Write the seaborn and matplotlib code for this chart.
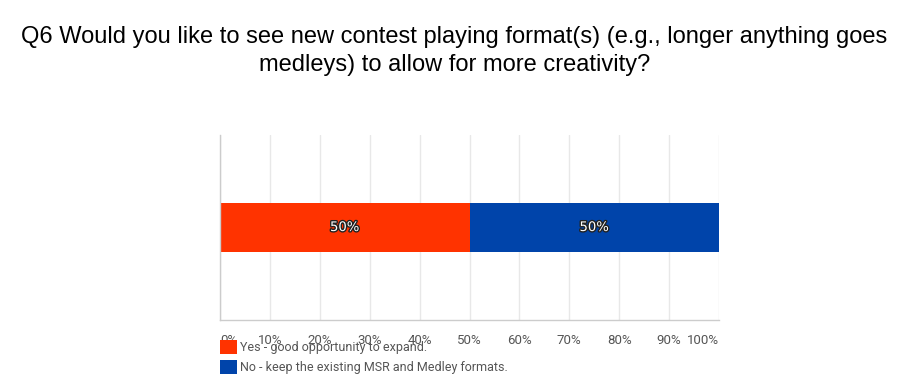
import matplotlib
matplotlib.use("Agg")
import matplotlib.pyplot as plt
import matplotlib.patheffects as pe
from matplotlib.patches import Patch
import seaborn as sns
import pandas as pd

# data
question = "Q6"
answers = ["Yes - good opportunity to expand.", "No - keep the existing MSR and Medley formats."]
shares = [50, 50]
colors = ["#ff3300", "#0044aa"]
tick_values = [0, 10, 20, 30, 40, 50, 60, 70, 80, 90, 100]
tick_labels = [f"{t}%" for t in tick_values]

sns.set_theme(style="white")
plt.rcParams['font.family'] = ['Roboto', 'DejaVu Sans']

df = pd.DataFrame({"q": [question] * len(answers), "answer": answers, "share": shares})
df["cum"] = df["share"].cumsum()

fig = plt.figure(figsize=(9.09, 3.88), dpi=100)
ax = fig.add_axes([220 / 909, 1 - 320 / 388, 499 / 909, 185 / 388])

# stacked bar: draw cumulative totals from the last segment back to the first
for i in range(len(df) - 1, -1, -1):
    row = df.iloc[[i]]
    sns.barplot(data=row, x="cum", y="q", orient="h", color=colors[i],
                width=0.53, ax=ax, saturation=1, edgecolor="none", zorder=2)

starts = [0] + list(df["cum"][:-1])
for s, v in zip(starts, df["share"]):
    ax.text(s + v / 2, 0, f"{v}%", ha="center", va="center", color="white",
            fontsize=9.5, family="DejaVu Sans",
            path_effects=[pe.withStroke(linewidth=2, foreground="#222222")], zorder=3)

ax.set_xlim(0, 100)
ax.set_ylim(1, -1)
ax.set_xticks(tick_values)
ax.set_xticklabels(tick_labels, color="#555555", fontsize=9.5)
labels = ax.get_xticklabels()
labels[0].set_ha("left")
labels[-1].set_ha("right")
ax.tick_params(axis="x", length=0, pad=10)
ax.set_yticks([])
ax.set_xlabel("")
ax.set_ylabel("")
ax.grid(axis="x", color="#e8e8e8", linewidth=1, zorder=0)
for side in ["top", "right"]:
    ax.spines[side].set_visible(False)
for side in ["left", "bottom"]:
    ax.spines[side].set_color("#cccccc")
    ax.spines[side].set_linewidth(1)

fig.text(0.5, 1 - 51 / 388, "Q6 Would you like to see new contest playing format(s) (e.g., longer anything goes\nmedleys) to allow for more creativity?",
         ha="center", va="center", fontsize=17, family="Liberation Sans", color="black",
         linespacing=1.3)

handles = [Patch(facecolor=c, edgecolor="none") for c in colors]
leg = fig.legend(handles, answers, loc="upper left", bbox_to_anchor=(214 / 909, 1 - 334 / 388),
                 frameon=False, fontsize=9, handlelength=1.3, handleheight=1.3,
                 handletextpad=0.3, labelspacing=0.45, borderpad=0)
for t in leg.get_texts():
    t.set_color("#555555")

fig.savefig("out.png", dpi=100)
